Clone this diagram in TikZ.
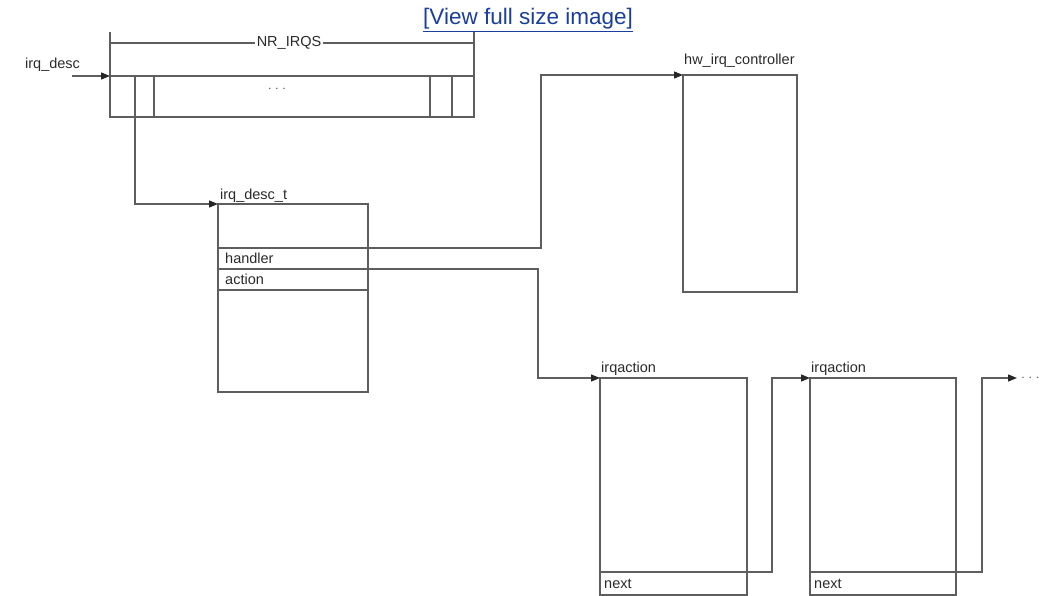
\documentclass[tikz,border=0pt]{standalone}
\usepackage{fontspec}
\setmainfont{Liberation Sans}
\usetikzlibrary{arrows.meta,calc}
\definecolor{ln}{HTML}{5E5E5E}
\definecolor{tx}{HTML}{2A2A2A}
\definecolor{lnk}{HTML}{1A3E9C}
\tikzset{
  box/.style={draw=ln,line width=1.3pt,rectangle,inner sep=0pt,outer sep=0pt,anchor=north west},
  lbl/.style={text=tx,inner sep=0pt,anchor=base west,font=\fontsize{14.5}{17}\selectfont},
  conn/.style={draw=ln,line width=1.3pt},
  arr/.style={conn,-{Triangle[length=9pt,width=7pt,color=black!85]}},
}
\begin{document}
\begin{tikzpicture}[x=1pt,y=-1pt]
\useasboundingbox (0,0) rectangle (1045,596);
% link
\node[text=lnk,inner sep=0pt,anchor=base,font=\fontsize{22.5}{26}\selectfont] (link) at (528,25) {\underline{[View full size image]}};
% array
\node[box,minimum width=364pt,minimum height=41pt] (arr) at (110,76) {};
\coordinate (al) at (110,32);
\coordinate (ar) at (474,32);
\draw[conn] (al) -- (arr.north west);
\draw[conn] (ar) -- (arr.north east);
\draw[conn] (110,43) -- (474,43);
\node[lbl,anchor=center,fill=white,inner xsep=2pt,inner ysep=1pt] (nr) at (289,43) {NR\_IRQS};
\foreach \xx in {135,154,430,452} \draw[conn] (\xx,76) -- (\xx,117);
\node[text=ln,inner sep=0pt,font=\fontsize{14}{15}\selectfont] (dots) at (277,89) {$\cdot\cdot\cdot$};
\node[lbl] (irqdesc) at (25,69) {irq\_desc};
\coordinate (inS) at (72,76);
\draw[arr] (inS) -- (arr.north west);
% irq_desc_t
\node[box,minimum width=150pt,minimum height=188pt] (desc) at (218,204) {};
\node[lbl] (desct) at (220,200) {irq\_desc\_t};
\node[box,minimum width=150pt,minimum height=21pt] (hrow) at (218,248) {};
\node[box,minimum width=150pt,minimum height=21pt] (arow) at (218,269) {};
\node[lbl] at (225,264) {handler};
\node[lbl] at (225,285) {action};
\draw[arr] ($(arr.south west)+(25,0)$) |- (desc.north west);
% hw_irq_controller
\node[box,minimum width=114pt,minimum height=217pt] (hw) at (683,75) {};
\node[lbl] (hwl) at (684,65) {hw\_irq\_controller};
\coordinate (hb) at (541,248);
\draw[arr] (hrow.north east) -- (hb) |- (hw.north west);
% irqaction 1
\node[box,minimum width=147pt,minimum height=217pt] (a1) at (600,378) {};
\node[lbl] at (601,372) {irqaction};
\node[box,minimum width=147pt,minimum height=23pt] (n1) at (600,572) {};
\node[lbl] at (604,588) {next};
\coordinate (ab) at (538,269);
\draw[arr] (arow.north east) -- (ab) |- (a1.north west);
% irqaction 2
\node[box,minimum width=146pt,minimum height=217pt] (a2) at (810,378) {};
\node[lbl] at (811,372) {irqaction};
\node[box,minimum width=146pt,minimum height=23pt] (n2) at (810,572) {};
\node[lbl] at (814,588) {next};
\coordinate (b1) at (772,572);
\draw[arr] (n1.north east) -- (b1) |- (a2.north west);
% tail
\coordinate (b2) at (982,572);
\coordinate (tail) at (1017,378);
\draw[arr] (n2.north east) -- (b2) |- (tail);
\node[text=ln,inner sep=0pt,anchor=west,font=\fontsize{14}{15}\selectfont] (tdots) at (1021,378) {$\cdot\cdot\cdot$};
\end{tikzpicture}
\end{document}
